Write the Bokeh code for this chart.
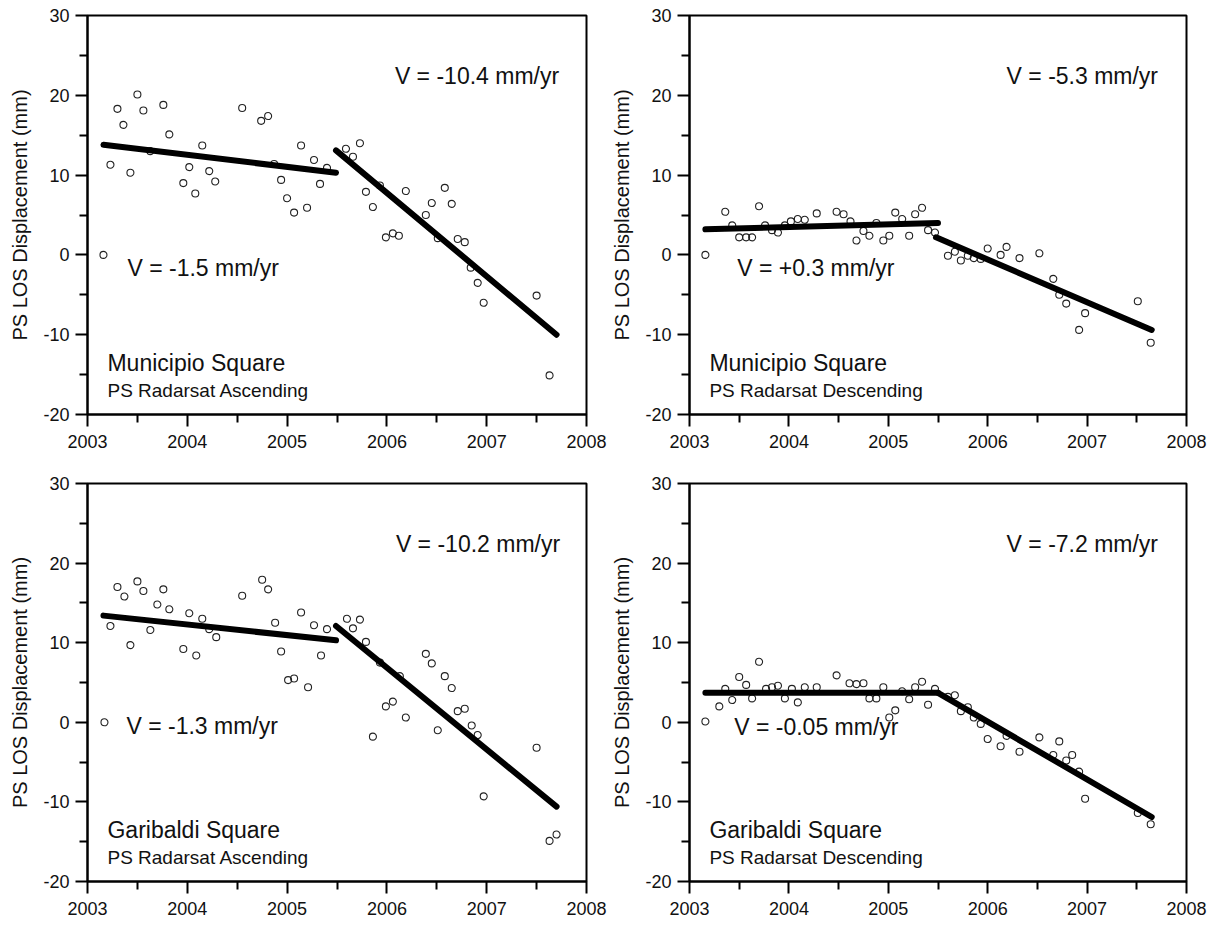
from bokeh.plotting import figure
from bokeh.models import Range1d, FixedTicker, Label
from bokeh.layouts import column, row
from bokeh.embed import file_html
from bokeh.resources import INLINE

FONT = "Liberation Sans"

# ---------------- data ----------------
x_tick_years = [2003, 2004, 2005, 2006, 2007, 2008]
x_minor_years = [2003.5, 2004.5, 2005.5, 2006.5, 2007.5]
y_ticks = [-20, -10, 0, 10, 20, 30]
y_minor = [-15, -5, 5, 15, 25]
y_tick_text = {-20: "-20", -10: "-10", 0: "0", 10: "10", 20: "20", 30: "30"}

# Municipio Square - Ascending
ma_x = [2003.16, 2003.23, 2003.30, 2003.36, 2003.43, 2003.50, 2003.56, 2003.63, 2003.76, 2003.82,
        2003.96, 2004.02, 2004.08, 2004.15, 2004.22, 2004.28, 2004.55, 2004.74, 2004.81, 2004.87,
        2004.94, 2005.00, 2005.07, 2005.14, 2005.20, 2005.27, 2005.33, 2005.40, 2005.59, 2005.66,
        2005.73, 2005.79, 2005.86, 2005.93, 2005.99, 2006.06, 2006.12, 2006.19, 2006.39, 2006.45,
        2006.51, 2006.58, 2006.65, 2006.71, 2006.78, 2006.84, 2006.91, 2006.97, 2007.50, 2007.63]
ma_y = [0.0, 11.3, 18.3, 16.3, 10.3, 20.1, 18.1, 13.0, 18.8, 15.1,
        9.0, 11.0, 7.7, 13.7, 10.5, 9.2, 18.4, 16.8, 17.4, 11.4,
        9.4, 7.1, 5.3, 13.7, 5.9, 11.9, 8.9, 10.9, 13.3, 12.3,
        14.0, 7.9, 6.0, 8.7, 2.2, 2.7, 2.4, 8.0, 5.0, 6.5,
        2.1, 8.4, 6.4, 2.0, 1.6, -1.6, -3.5, -6.0, -5.1, -15.1]
ma_trend_x0 = [2003.16, 2005.49]
ma_trend_y0 = [13.8, 13.1]
ma_trend_x1 = [2005.49, 2007.70]
ma_trend_y1 = [10.3, -10.0]

# Municipio Square - Descending
md_x = [2003.16, 2003.36, 2003.43, 2003.50, 2003.57, 2003.63, 2003.70, 2003.76, 2003.83, 2003.89,
        2003.96, 2004.02, 2004.09, 2004.16, 2004.28, 2004.48, 2004.55, 2004.62, 2004.68, 2004.75,
        2004.81, 2004.88, 2004.95, 2005.01, 2005.07, 2005.14, 2005.21, 2005.27, 2005.34, 2005.40,
        2005.47, 2005.60, 2005.67, 2005.73, 2005.80, 2005.86, 2005.93, 2006.00, 2006.13, 2006.19,
        2006.32, 2006.52, 2006.66, 2006.72, 2006.79, 2006.92, 2006.98, 2007.51, 2007.64]
md_y = [0.0, 5.4, 3.7, 2.2, 2.2, 2.2, 6.1, 3.7, 3.1, 2.8,
        3.7, 4.2, 4.5, 4.4, 5.2, 5.4, 5.1, 4.2, 1.8, 3.0,
        2.4, 4.0, 1.8, 2.4, 5.3, 4.5, 2.4, 5.1, 5.9, 3.1,
        2.8, -0.1, 0.4, -0.7, -0.1, -0.4, -0.5, 0.8, 0.0, 1.0,
        -0.4, 0.2, -3.0, -5.0, -6.1, -9.4, -7.3, -5.8, -11.0]
md_trend_x0 = [2003.16, 2005.48]
md_trend_y0 = [3.2, 2.2]
md_trend_x1 = [2005.50, 2007.65]
md_trend_y1 = [4.0, -9.4]

# Garibaldi Square - Ascending
ga_x = [2003.17, 2003.23, 2003.30, 2003.37, 2003.43, 2003.50, 2003.56, 2003.63, 2003.70, 2003.76,
        2003.82, 2003.96, 2004.02, 2004.09, 2004.15, 2004.22, 2004.29, 2004.55, 2004.75, 2004.81,
        2004.88, 2004.94, 2005.01, 2005.07, 2005.14, 2005.21, 2005.27, 2005.34, 2005.40, 2005.60,
        2005.66, 2005.73, 2005.79, 2005.86, 2005.93, 2005.99, 2006.06, 2006.13, 2006.19, 2006.39,
        2006.45, 2006.51, 2006.58, 2006.65, 2006.71, 2006.78, 2006.85, 2006.91, 2006.97, 2007.50,
        2007.63, 2007.70]
ga_y = [0.0, 12.1, 17.0, 15.8, 9.7, 17.7, 16.5, 11.6, 14.8, 16.7,
        14.2, 9.2, 13.7, 8.4, 13.0, 11.7, 10.7, 15.9, 17.9, 16.7,
        12.5, 8.9, 5.3, 5.5, 13.8, 4.4, 12.2, 8.4, 11.7, 13.0,
        11.8, 12.9, 10.1, -1.8, 7.5, 2.0, 2.6, 5.8, 0.6, 8.6,
        7.4, -1.0, 5.8, 4.3, 1.4, 1.7, -0.4, -1.6, -9.3, -3.2,
        -14.9, -14.1]
ga_trend_x0 = [2003.16, 2005.49]
ga_trend_y0 = [13.4, 12.1]
ga_trend_x1 = [2005.49, 2007.70]
ga_trend_y1 = [10.3, -10.6]

# Garibaldi Square - Descending
gd_x = [2003.16, 2003.30, 2003.36, 2003.43, 2003.50, 2003.57, 2003.63, 2003.70, 2003.77, 2003.83,
        2003.89, 2003.96, 2004.03, 2004.09, 2004.16, 2004.28, 2004.48, 2004.61, 2004.68, 2004.75,
        2004.81, 2004.88, 2004.95, 2005.01, 2005.07, 2005.14, 2005.21, 2005.27, 2005.34, 2005.40,
        2005.47, 2005.60, 2005.67, 2005.73, 2005.80, 2005.86, 2005.93, 2006.00, 2006.13, 2006.19,
        2006.32, 2006.52, 2006.66, 2006.72, 2006.79, 2006.85, 2006.92, 2006.98, 2007.51, 2007.64]
gd_y = [0.1, 2.0, 4.2, 2.8, 5.7, 4.7, 3.0, 7.6, 4.2, 4.4,
        4.6, 3.0, 4.2, 2.5, 4.4, 4.4, 5.9, 4.9, 4.8, 4.9,
        3.0, 3.0, 4.4, 0.6, 1.5, 3.9, 2.9, 4.4, 5.1, 2.2,
        4.2, 3.2, 3.4, 1.4, 1.9, 0.6, -0.2, -2.1, -3.0, -1.7,
        -3.7, -1.9, -4.1, -2.4, -4.8, -4.1, -6.2, -9.6, -11.4, -12.8]
gd_trend_x0 = [2003.16, 2005.50]
gd_trend_y0 = [3.7, 3.7]
gd_trend_x1 = [2005.50, 2007.65]
gd_trend_y1 = [3.7, -11.9]

panels = [
    dict(x=ma_x, y=ma_y, tx0=ma_trend_x0, ty0=ma_trend_y0, tx1=ma_trend_x1, ty1=ma_trend_y1,
         v_late="V = -10.4 mm/yr", v_early="V = -1.5 mm/yr",
         site="Municipio Square", track="PS Radarsat Ascending"),
    dict(x=md_x, y=md_y, tx0=md_trend_x0, ty0=md_trend_y0, tx1=md_trend_x1, ty1=md_trend_y1,
         v_late="V = -5.3 mm/yr", v_early="V = +0.3 mm/yr",
         site="Municipio Square", track="PS Radarsat Descending"),
    dict(x=ga_x, y=ga_y, tx0=ga_trend_x0, ty0=ga_trend_y0, tx1=ga_trend_x1, ty1=ga_trend_y1,
         v_late="V = -10.2 mm/yr", v_early="V = -1.3 mm/yr",
         site="Garibaldi Square", track="PS Radarsat Ascending"),
    dict(x=gd_x, y=gd_y, tx0=gd_trend_x0, ty0=gd_trend_y0, tx1=gd_trend_x1, ty1=gd_trend_y1,
         v_late="V = -7.2 mm/yr", v_early="V = -0.05 mm/yr",
         site="Garibaldi Square", track="PS Radarsat Descending"),
]

# label placement (data units of each panel)
late_pos = [(2006.08, 22.4), (2006.19, 22.4), (2006.09, 22.4), (2006.19, 22.4)]
early_pos = [(2003.40, -1.7), (2003.48, -1.7), (2003.39, -0.5), (2003.45, -0.6)]
site_pos = (2003.20, -13.5)
track_pos = (2003.20, -17.0)

TXT = "#111111"


def make_panel(i, d, left_border, top_border, bottom_border):
    p = figure(width=left_border + 499 + 22, height=top_border + 399 + bottom_border,
               x_range=Range1d(2003, 2008), y_range=Range1d(-20, 30),
               output_backend="svg", toolbar_location=None,
               min_border_left=left_border, min_border_right=22,
               min_border_top=top_border, min_border_bottom=bottom_border)
    p.xgrid.visible = False
    p.ygrid.visible = False
    p.outline_line_color = "black"
    p.outline_line_width = 2
    p.background_fill_color = "white"
    p.border_fill_color = "white"

    p.xaxis.ticker = FixedTicker(ticks=x_tick_years, minor_ticks=x_minor_years)
    p.yaxis.ticker = FixedTicker(ticks=y_ticks, minor_ticks=y_minor)
    p.yaxis.major_label_overrides = y_tick_text
    for ax in (p.xaxis, p.yaxis):
        ax.axis_line_width = 2
        ax.axis_line_color = "black"
        ax.major_tick_line_width = 2
        ax.minor_tick_line_width = 2
        ax.major_tick_line_color = "black"
        ax.minor_tick_line_color = "black"
        ax.major_tick_out = 12
        ax.major_tick_in = 0
        ax.minor_tick_out = 8
        ax.minor_tick_in = 0
        ax.major_label_text_font = FONT
        ax.major_label_text_font_size = "18px"
        ax.major_label_text_color = TXT
    p.xaxis.major_label_standoff = 8
    p.yaxis.major_label_standoff = 6
    p.yaxis.axis_label = "PS LOS Displacement (mm)"
    p.yaxis.axis_label_text_font = FONT
    p.yaxis.axis_label_text_font_size = "20px"
    p.yaxis.axis_label_text_font_style = "normal"
    p.yaxis.axis_label_text_color = TXT
    p.yaxis.axis_label_standoff = 9

    p.scatter(d["x"], d["y"], marker="circle", size=7, fill_color=None,
              line_color="#222222", line_width=1.1)
    p.segment(d["tx0"], d["ty0"], d["tx1"], d["ty1"], line_color="black",
              line_width=6, line_cap="round")

    lx, ly = late_pos[i]
    ex, ey = early_pos[i]
    for txt, (x, y), size in [(d["v_late"], (lx, ly), "23px"),
                              (d["v_early"], (ex, ey), "23px"),
                              (d["site"], site_pos, "23px"),
                              (d["track"], track_pos, "19px")]:
        p.add_layout(Label(x=x, y=y, text=txt, text_font=FONT, text_font_size=size,
                           text_color=TXT, text_align="left", text_baseline="middle"))
    return p


p1 = make_panel(0, panels[0], 87, 15, 45)
p2 = make_panel(1, panels[1], 79, 15, 45)
p3 = make_panel(2, panels[2], 87, 24, 35)
p4 = make_panel(3, panels[3], 79, 24, 35)

layout = column(row(p1, p2), row(p3, p4))

open("out.html", "w").write(file_html(layout, INLINE))
